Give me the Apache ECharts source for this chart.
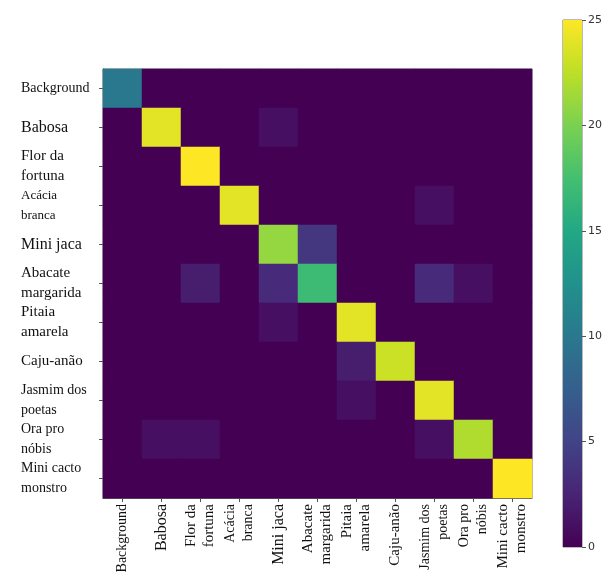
<!DOCTYPE html>
<html>
<head>
<meta charset="utf-8">
<script src="https://cdn.jsdelivr.net/npm/echarts@6/dist/echarts.min.js"></script>
<style>html,body{margin:0;padding:0;background:#fff;}#c{width:609px;height:582px;}</style>
</head>
<body>
<div id="c"></div>
<script>
// Class labels (rows = true class, columns = predicted class)
const categories = ['Background','Babosa','Flor da\nfortuna','Acácia\nbranca','Mini jaca','Abacate\nmargarida','Pitaia\namarela','Caju-anão','Jasmim dos\npoetas','Ora pro\nnóbis','Mini cacto\nmonstro'];
const yLabelSizes = [14, 16, 15, 13, 16, 15, 15, 15, 14, 14, 14];
const xLabelSizes = [14, 16, 15, 14, 16, 15, 15, 15, 14, 14, 15];
// Confusion matrix values, one array per true class
const confusion = [
  [10,0,0,0,0,0,0,0,0,0,0],
  [0,24,0,0,1,0,0,0,0,0,0],
  [0,0,25,0,0,0,0,0,0,0,0],
  [0,0,0,24,0,0,0,0,1,0,0],
  [0,0,0,0,21,4,0,0,0,0,0],
  [0,0,2,0,3,17,0,0,3,1,0],
  [0,0,0,0,1,0,24,0,0,0,0],
  [0,0,0,0,0,0,2,23,0,0,0],
  [0,0,0,0,0,0,1,0,24,0,0],
  [0,1,1,0,0,0,0,0,1,22,0],
  [0,0,0,0,0,0,0,0,0,0,25]
];
const colorbarTicks = [0, 5, 10, 15, 20, 25];
const viridis = ['#440154','#482475','#414487','#355f8d','#2a788e','#21918c','#22a884','#44bf70','#7ad151','#bddf26','#fde725'];

const heatData = [];
confusion.forEach((row, r) => row.forEach((v, c) => heatData.push([c, r, v])));

const xItems = categories.map((c, i) => ({value: c, textStyle: {fontSize: xLabelSizes[i]}}));

const serif = 'Liberation Serif';
const rich = {};
[13, 14, 15, 16].forEach(s => {
  rich['s' + s] = {fontSize: s, fontFamily: serif, color: '#111', width: 78, align: 'left', lineHeight: 20};
});

const chart = echarts.init(document.getElementById('c'), null, {renderer: 'canvas'});
chart.setOption({
  animation: false,
  grid: [
    {left: 103, top: 69, width: 429, height: 429, show: true, borderColor: '#666', borderWidth: 1,
     backgroundColor: 'transparent', containLabel: false, outerBoundsMode: 'none'},
    {left: 563, top: 20, width: 19, height: 527, show: true, borderColor: '#777', borderWidth: 1,
     backgroundColor: 'transparent', containLabel: false, outerBoundsMode: 'none'}
  ],
  xAxis: [
    {type: 'category', gridIndex: 0, data: xItems, position: 'bottom',
     axisLine: {show: true, lineStyle: {color: '#555'}},
     axisTick: {show: true, alignWithLabel: true, length: 4, lineStyle: {color: '#555'}},
     axisLabel: {rotate: 90, interval: 0, margin: 6, color: '#111', fontFamily: serif, lineHeight: 18},
     splitLine: {show: false}},
    {type: 'category', gridIndex: 1, data: ['c'], show: false}
  ],
  yAxis: [
    {type: 'category', gridIndex: 0, data: categories, inverse: true,
     axisLine: {show: true, lineStyle: {color: '#555'}},
     axisTick: {show: true, alignWithLabel: true, length: 4, lineStyle: {color: '#555'}},
     axisLabel: {interval: 0, margin: 4,
       formatter: (v, i) => v.split('\n').map(l => '{s' + yLabelSizes[i] + '|' + l + '}').join('\n'),
       rich: rich},
     splitLine: {show: false}},
    {type: 'value', gridIndex: 1, min: 0, max: 25, interval: 5, position: 'right',
     axisLine: {show: false},
     axisTick: {show: true, length: 4, lineStyle: {color: '#555'}},
     axisLabel: {margin: 6, color: '#333', fontSize: 11, fontFamily: 'DejaVu Sans'},
     splitLine: {show: false}}
  ],
  visualMap: {
    show: false, type: 'continuous', min: 0, max: 25, seriesIndex: 0, dimension: 2,
    inRange: {color: viridis}
  },
  series: [
    {type: 'heatmap', xAxisIndex: 0, yAxisIndex: 0, data: heatData,
     itemStyle: {borderWidth: 0}, label: {show: false}},
    {type: 'bar', xAxisIndex: 1, yAxisIndex: 1, data: [colorbarTicks[colorbarTicks.length - 1]], barWidth: '100%',
     itemStyle: {color: new echarts.graphic.LinearGradient(0, 1, 0, 0,
       viridis.map((c, i) => ({offset: i / (viridis.length - 1), color: c})))}}
  ]
});
</script>
</body>
</html>
